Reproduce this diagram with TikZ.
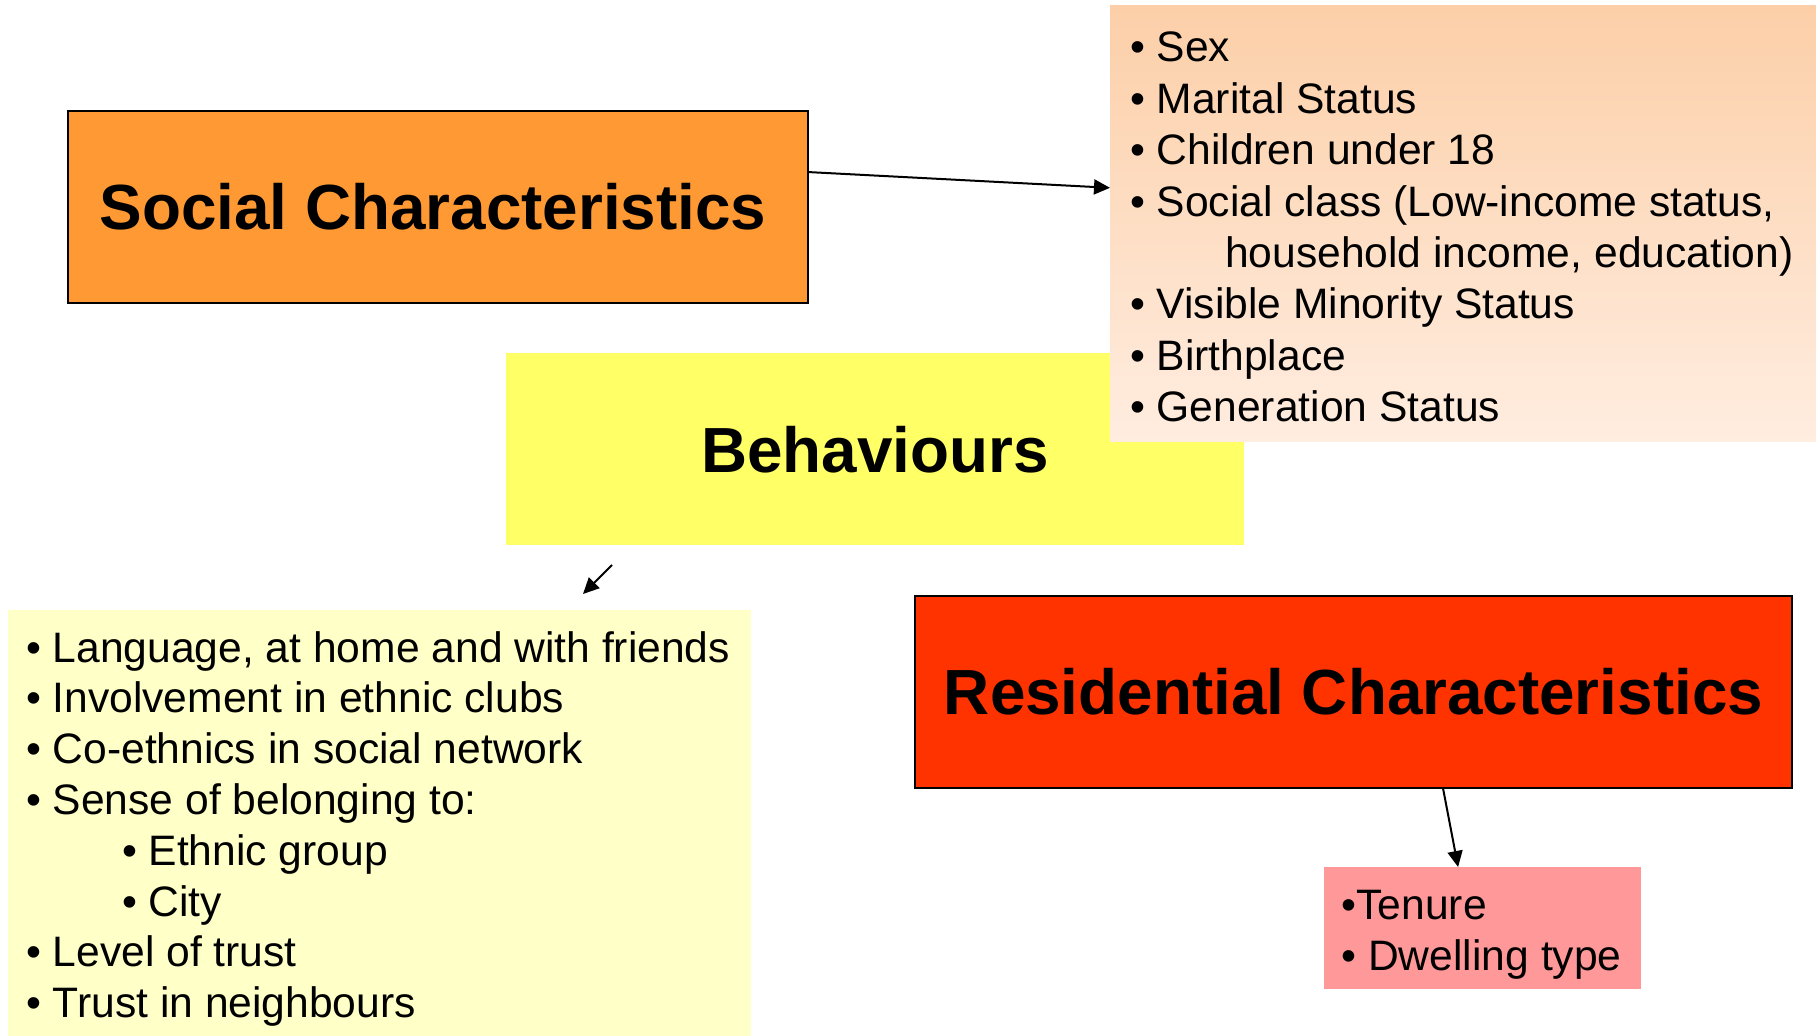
\documentclass[tikz,border=0pt]{standalone}
\usepackage{fontspec}
\setmainfont{Liberation Sans}
\usetikzlibrary{arrows.meta,calc}
\definecolor{socorange}{RGB}{255,153,51}
\definecolor{behyellow}{RGB}{255,255,102}
\definecolor{resred}{RGB}{255,51,0}
\definecolor{tenpink}{RGB}{255,153,153}
\definecolor{paleyellow}{RGB}{255,255,200}
\definecolor{peachtop}{RGB}{252,207,168}
\definecolor{peachbot}{RGB}{255,237,224}
\begin{document}
\begin{tikzpicture}[x=0.5pt,y=-0.5pt,
  box/.style={rectangle, inner sep=0pt, outer sep=0pt},
  bordered/.style={box, draw=black, line width=0.8pt},
  title/.style={font=\fontsize{31.9}{38}\selectfont\bfseries},
  listtext/.style={anchor=north west, inner sep=0pt, outer sep=0pt, align=left, font=\fontsize{21.3}{25.7}\selectfont},
  arr/.style={line width=1pt, -{Triangle[length=8pt,width=7.5pt]}}]
\useasboundingbox (0,0) rectangle (1816,1036);

% Social Characteristics
\node[bordered, fill=socorange, minimum width=370pt, minimum height=96pt, title] (soc) at (438,207) {Social Characteristics\hspace*{5pt}};

% Behaviours
\node[box, fill=behyellow, minimum width=369pt, minimum height=96.25pt, title] (beh) at (875,449.25) {Behaviours};

% Top-right list box with gradient
\node[box, top color=peachtop, bottom color=peachbot, minimum width=353pt, minimum height=218pt] (plist) at (1463,224) {};
\node[listtext] (plisttext) at (1130,22) {\rule{0pt}{20pt}• Sex\\
• Marital Status\\
• Children under 18\\
• Social class (Low-income status,\\
\hspace*{47.5pt}household income, education)\\
• Visible Minority Status\\
• Birthplace\\
• Generation Status};

% Bottom-left list box
\node[box, fill=paleyellow, minimum width=371.5pt, minimum height=213pt] (blist) at (379.5,823) {};
\node[listtext, font=\fontsize{21.3}{25.4}\selectfont] (blisttext) at (26,622) {\rule{0pt}{20pt}• Language, at home and with friends\\
• Involvement in ethnic clubs\\
• Co-ethnics in social network\\
• Sense of belonging to:\\
\hspace*{48pt}• Ethnic group\\
\hspace*{48pt}• City\\
• Level of trust\\
• Trust in neighbours};

% Residential Characteristics
\node[bordered, fill=resred, minimum width=438.5pt, minimum height=96pt, title] (res) at (1353.5,692) {Residential Characteristics};

% Tenure box
\node[box, fill=tenpink, minimum width=158.5pt, minimum height=61pt] (ten) at (1482.5,928) {};
\node[listtext] (tentext) at (1341.5,879.5) {\rule{0pt}{20pt}•Tenure\\
• Dwelling type};

% Connectors
\draw[arr] ($(soc.north east)!0.318!(soc.south east)$) -- ($(plist.north west)!0.417!(plist.south west)$);
\coordinate (bstart) at (612,565);
\coordinate (bend) at (583,594);
\draw[arr] (bstart) -- (bend);
\draw[arr] ($(res.south west)!0.602!(res.south east)$) -- ($(ten.north west)!0.423!(ten.north east)$);
\end{tikzpicture}
\end{document}
